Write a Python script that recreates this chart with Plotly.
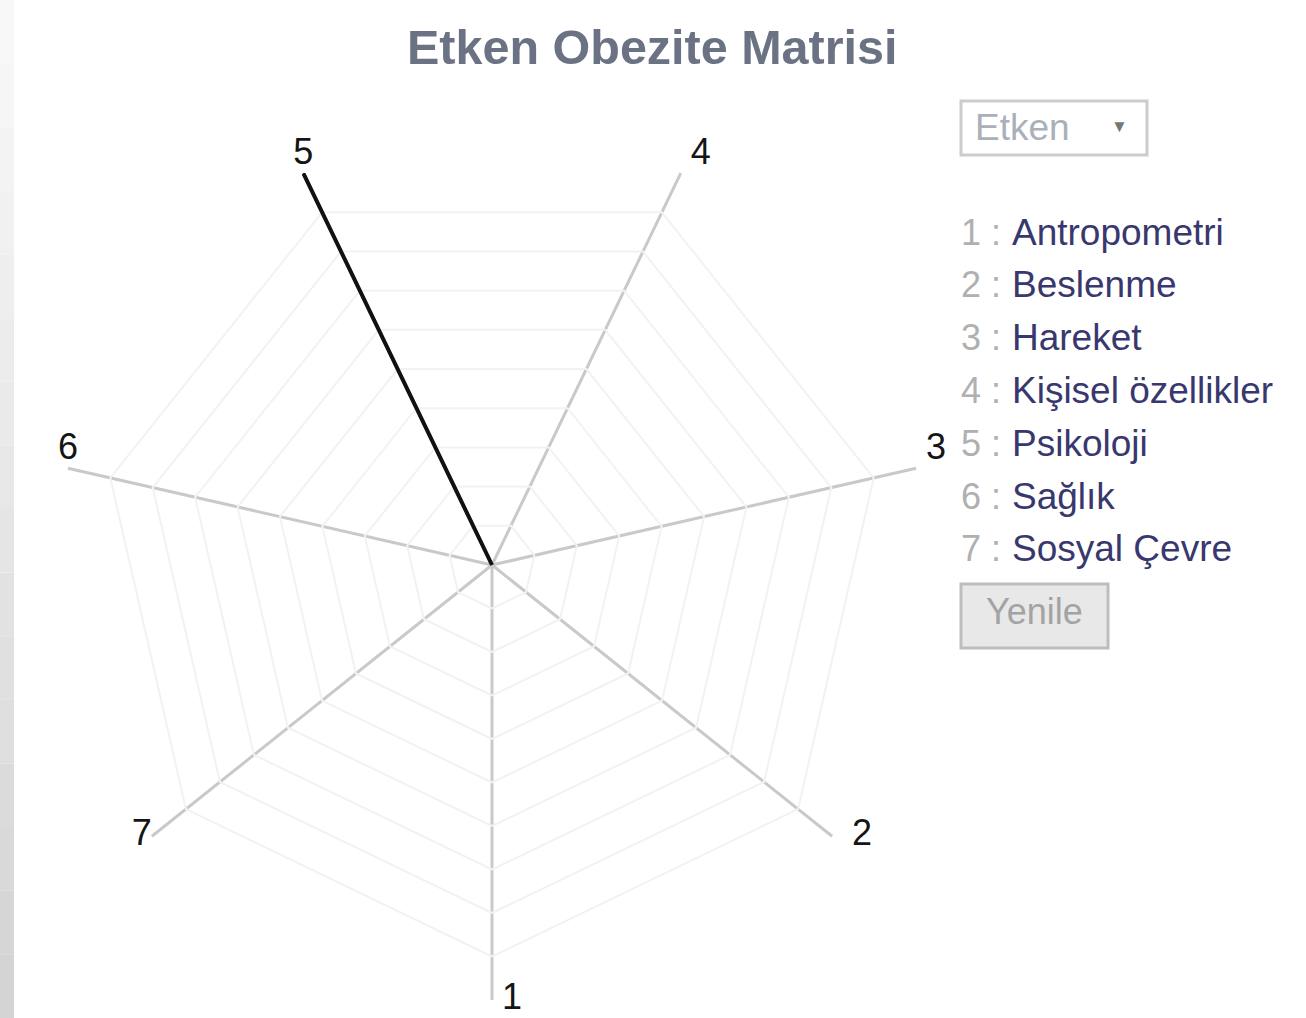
import plotly.graph_objects as go

# ---- data ----
axis_labels = ["1", "2", "3", "4", "5", "6", "7"]
factor_names = ["Antropometri", "Beslenme", "Hareket", "Kişisel özellikler",
                "Psikoloji", "Sağlık", "Sosyal Çevre"]
values = [0, 0, 0, 0, 10, 0, 0]
radial_max = 10
title_text = "Etken Obezite Matrisi"
dropdown_text = "Etken"
button_text = "Yenile"

W, H = 1306, 1018
FONT = "Liberation Sans, Arial, sans-serif"
NB = "\u00a0"


def px(x):
    return x / W


def py(y):
    return 1 - y / H


fig = go.Figure()
fig.add_trace(go.Scatterpolar(
    r=values + values[:1],
    theta=axis_labels + axis_labels[:1],
    mode="lines",
    line=dict(color="#111111", width=4),
    hoverinfo="skip",
    showlegend=False,
))
# axis end labels, placed at the outer ring through the polar scale
label_pos = ["middle right", "middle right", "top right", "top right",
             "top center", "top center", "middle left"]
label_pad = [1, 2, 1, 1, 0, 0, 0]
label_text = [NB * p + lab for p, lab in zip(label_pad, axis_labels)]
fig.add_trace(go.Scatterpolar(
    r=[radial_max] * len(axis_labels),
    theta=axis_labels,
    mode="text",
    text=label_text,
    textposition=label_pos,
    textfont=dict(family=FONT, size=36, color="#151515"),
    cliponaxis=False,
    hoverinfo="skip",
    showlegend=False,
))

cx, cy, R = 492, 565, 435
fig.update_layout(
    width=W, height=H,
    margin=dict(l=0, r=0, t=0, b=0),
    paper_bgcolor="white",
    plot_bgcolor="white",
    showlegend=False,
    polar=dict(
        domain=dict(x=[px(cx - R), px(cx + R)], y=[py(cy + R), py(cy - R)]),
        bgcolor="white",
        gridshape="linear",
        radialaxis=dict(
            range=[0, radial_max], dtick=1, showticklabels=False,
            showline=False, ticks="", gridcolor="#f2f2f2", gridwidth=2,
        ),
        angularaxis=dict(
            categoryarray=axis_labels, type="category",
            direction="counterclockwise", rotation=270,
            showline=False, ticks="", showticklabels=False,
            gridcolor="#c9c9c9", gridwidth=2.5,
        ),
    ),
)

# left grey gradient strip
n = 16
for i in range(n):
    v = int(round(248 - (248 - 212) * i / (n - 1)))
    c = "#{0:02x}{0:02x}{0:02x}".format(v)
    fig.add_shape(type="rect", xref="paper", yref="paper",
                  x0=0, x1=px(14), y0=py(H * (i + 1) / n), y1=py(H * i / n),
                  fillcolor=c, line=dict(width=0), layer="below")

# title
fig.add_annotation(x=px(652), y=py(47), xref="paper", yref="paper",
                   text="<b>" + title_text + "</b>", showarrow=False,
                   font=dict(family=FONT, size=48.5, color="#6a7284"),
                   xanchor="center", yanchor="middle")

# dropdown box
fig.add_shape(type="rect", xref="paper", yref="paper",
              x0=px(961), x1=px(1147), y0=py(155), y1=py(101),
              fillcolor="white", line=dict(color="#cccccc", width=3))
fig.add_annotation(x=px(973), y=py(127), xref="paper", yref="paper",
                   text=dropdown_text, showarrow=False,
                   font=dict(family=FONT, size=37, color="#a9b0ba"),
                   xanchor="left", yanchor="middle")
fig.add_annotation(x=px(1119), y=py(126), xref="paper", yref="paper",
                   text="▼", showarrow=False,
                   font=dict(family=FONT, size=17, color="#777777"),
                   xanchor="center", yanchor="middle")

# legend list
y0, dy = 232, 52.8
for i, (lab, name) in enumerate(zip(axis_labels, factor_names)):
    yy = y0 + i * dy
    fig.add_annotation(x=px(959), y=py(yy), xref="paper", yref="paper",
                       text=lab + " :", showarrow=False,
                       font=dict(family=FONT, size=36, color="#b0b0b0"),
                       xanchor="left", yanchor="middle")
    fig.add_annotation(x=px(1010), y=py(yy), xref="paper", yref="paper",
                       text=name, showarrow=False,
                       font=dict(family=FONT, size=37, color="#38386e"),
                       xanchor="left", yanchor="middle")

# refresh button
fig.add_shape(type="rect", xref="paper", yref="paper",
              x0=px(961), x1=px(1108), y0=py(648), y1=py(584),
              fillcolor="#e8e8e8", line=dict(color="#bdbdbd", width=3))
fig.add_annotation(x=px(1034), y=py(611), xref="paper", yref="paper",
                   text=button_text, showarrow=False,
                   font=dict(family=FONT, size=36, color="#a3a3a3"),
                   xanchor="center", yanchor="middle")

fig.write_html("out.html", config={"displayModeBar": False},
               post_script="document.body.style.margin='0';")
